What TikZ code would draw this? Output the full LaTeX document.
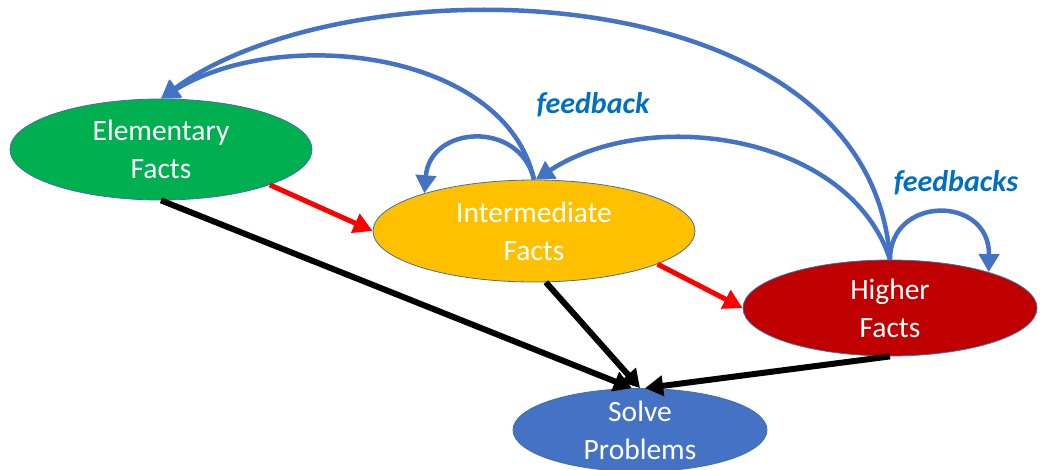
\documentclass[tikz,border=0pt]{standalone}
\usepackage{fontspec}
\setmainfont{Carlito}
\usetikzlibrary{shapes.geometric,arrows.meta}
\definecolor{elgreen}{HTML}{00B050}
\definecolor{inyellow}{HTML}{FFC000}
\definecolor{hired}{HTML}{C00000}
\definecolor{soblue}{HTML}{4472C4}
\definecolor{rimblue}{HTML}{41719C}
\definecolor{fbblue}{HTML}{4472C4}
\definecolor{labelblue}{HTML}{0070C0}
\definecolor{uparrow}{HTML}{FF0000}
\begin{document}
\begin{tikzpicture}[x=1pt,y=-1pt,
  fact/.style={ellipse, inner sep=0pt, draw=rimblue, line width=0.8pt,
    text=white, align=center, font=\fontsize{29.5}{38}\selectfont},
  fb/.style={draw=fbblue, line width=4.5pt, -{Triangle[length=18pt,width=20pt]}},
  up/.style={draw=uparrow, line width=5pt, -{Triangle[length=19pt,width=20pt]}},
  toward/.style={draw=black, line width=6pt, -{Triangle[length=18pt,width=20pt]}},
  tag/.style={text=labelblue, font=\fontsize{30}{36}\selectfont\bfseries\itshape}]
\useasboundingbox (0,0) rectangle (1042,469);

% the four stages
\node[fact, fill=elgreen, minimum width=302pt, minimum height=101pt] (el) at (161,149.5) {Elementary\\Facts};
\node[fact, fill=inyellow, minimum width=322pt, minimum height=102pt] (int) at (534,231) {Intermediate\\Facts};
\node[fact, fill=hired, minimum width=294pt, minimum height=96pt] (hi) at (890,308) {Higher\\Facts};
\node[fact, fill=soblue, minimum width=254pt, minimum height=78pt] (so) at (640,430) {Solve\\Problems};

% progression between stages
\draw[up] (el.-18) -- (int.west);
\draw[up] (int.-15) -- (hi.west);

% every stage feeds problem solving
\draw[toward] (el.south) -- (so.101);
\draw[toward] (int.-77) -- (so.north);
\draw[toward] (hi.south) -- (so.83);

% feedback loops
\draw[fb] (hi.north) .. controls (870,-30) and (350,-40) .. (el.north);
\draw[fb] (int.north) .. controls (505,50) and (280,25) .. (el.north);
\draw[fb] (int.north) .. controls (520,120) and (430,125) .. (int.161);
\draw[fb] (hi.north) .. controls (850,135) and (650,105) .. (int.88);
\draw[fb] (hi.north) .. controls (890,195) and (990,195) .. (hi.20);

% loop labels
\node[tag] (fbone) at (593,105) {feedback};
\node[tag] (fbmany) at (956,183) {feedbacks};
\end{tikzpicture}
\end{document}
